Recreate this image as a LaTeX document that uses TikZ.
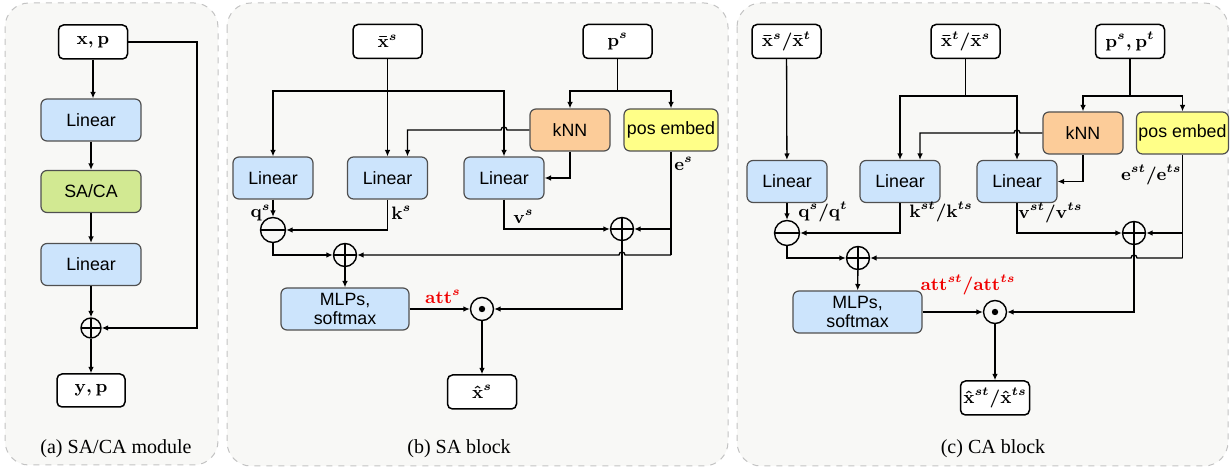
\documentclass[tikz,border=0pt]{standalone}
\usepackage[no-math]{fontspec}
\newfontfamily\boxfont{Liberation Sans}
\newfontfamily\capfont{Liberation Serif}
\usepackage{amsmath,amssymb}
\usepackage{tikz}
\usetikzlibrary{arrows.meta,calc}
\usepackage{xcolor}
\definecolor{linblue}{RGB}{204,228,252}
\definecolor{knnorange}{RGB}{252,204,153}
\definecolor{posyellow}{RGB}{255,255,136}
\definecolor{sacagreen}{RGB}{210,233,146}
\definecolor{panelgray}{RGB}{248,248,246}
\definecolor{edgegray}{RGB}{80,80,80}
\definecolor{dashgray}{RGB}{195,195,195}
\definecolor{attred}{RGB}{240,0,0}

\begin{document}
\begin{tikzpicture}[x=0.5pt,y=-0.5pt,
  wire/.style={line width=0.65pt,black},
  arr/.style={wire,-{Latex[length=3.2pt,width=2.8pt]}},
  inbox/.style={draw,line width=0.75pt,fill=white,rounded corners=2.5pt,minimum width=34.5pt,minimum height=17pt,inner sep=0pt,font=\fontsize{9}{10}\selectfont\boldmath},
  blk/.style={draw=edgegray,line width=0.6pt,rounded corners=3pt,minimum height=21pt,inner sep=0pt,align=center,font=\boxfont\fontsize{8.9}{9.7}\selectfont},
  linbox/.style={blk,fill=linblue,minimum width=40pt},
  opnode/.style={circle,draw,line width=0.7pt,minimum size=11.5pt,inner sep=0pt},
  plusop/.style={opnode,path picture={\draw[line width=0.65pt] (path picture bounding box.north) -- (path picture bounding box.south) (path picture bounding box.west) -- (path picture bounding box.east);}},
  minusop/.style={opnode,path picture={\draw[line width=0.65pt] (path picture bounding box.west) -- (path picture bounding box.east);}},
  dotop/.style={opnode,path picture={\fill (path picture bounding box.center) circle (1.6pt);}},
  lbl/.style={font=\fontsize{9}{10}\selectfont\boldmath,inner sep=0pt},
  panel/.style={draw=dashgray,dashed,fill=panelgray,rounded corners=12pt,line width=0.5pt},
  captext/.style={font=\capfont\fontsize{10}{12}\selectfont}]
  \useasboundingbox (0,0) rectangle (1230,469);

  \draw[panel] (5,3) rectangle (218,465);
  \draw[panel] (227,3) rectangle (728,466);
  \draw[panel] (737,3) rectangle (1228,466);

  \node[inbox] (xp) at (93,42) {$\mathbf{x},\mathbf{p}$};
  \node[blk,fill=linblue,minimum width=50pt] (la1) at (91,120) {Linear};
  \node[blk,fill=sacagreen,minimum width=50pt] (saca) at (91,191.5) {SA/CA};
  \node[blk,fill=linblue,minimum width=50pt] (la2) at (91,264.5) {Linear};
  \node[plusop,minimum size=10pt] (adda) at (91,328) {};
  \node[inbox,minimum width=34pt,minimum height=16.5pt] (yp) at (91,390.5) {$\mathbf{y},\mathbf{p}$};
  \coordinate (skipa) at (197,42);

  \draw[arr] (xp.south) -- (xp.south |- la1.north);
  \draw[arr] (la1) -- (saca);
  \draw[arr] (saca) -- (la2);
  \draw[arr] (la2) -- (adda);
  \draw[arr] (adda) -- (yp);
  \draw[arr] (xp.east) -- (skipa) |- (adda.east);

  \node[captext] (capa) at (116,449) {(a) SA/CA module};

  \node[inbox] (xs) at (387.5,41.5) {$\bar{\mathbf{x}}^s$};
  \node[inbox] (ps) at (617.5,41.5) {$\mathbf{p}^s$};
  \node[linbox] (lq) at (273,178) {Linear};
  \node[linbox] (lk) at (387.5,178) {Linear};
  \node[linbox] (lv) at (504,178) {Linear};
  \node[blk,fill=knnorange,minimum width=40pt] (knn) at (570,130) {kNN};
  \node[blk,fill=posyellow,minimum width=47pt] (pe) at (671,130) {pos embed};
  \node[minusop,minimum size=12.5pt] (sub) at (273,230) {};
  \node[plusop] (addv) at (622,229) {};
  \node[plusop] (addqk) at (345,255) {};
  \node[blk,fill=linblue,minimum width=64pt] (mlp) at (345,309) {MLPs,\\softmax};
  \node[dotop] (dot) at (482,309) {};
  \node[inbox] (xhat) at (482,392) {$\hat{\mathbf{x}}^s$};
  \coordinate (xsb) at (387.5,91);
  \coordinate (psb) at (617.5,91);
  \coordinate (hopk) at (lv.north |- knn.west);
  \coordinate (pebend) at (671,255);
  \coordinate (hopv) at (addv.south |- pebend);

  \draw[arr] (xs) -- (lk);
  \draw[arr] (xsb) -| (lq.north);
  \draw[arr] (xsb) -| (lv.north);
  \draw[wire] (ps) -- (psb);
  \draw[arr] (psb) -| (knn.north);
  \draw[arr] (psb) -| (pe.north);
  \draw[arr] (knn.west) -- ([xshift=1.5pt]hopk) arc[start angle=0,end angle=-180,radius=3] -| ([xshift=10pt]lk.north);
  \draw[arr] (knn.south) |- (lv.east);
  \draw[arr] (lq) -- (sub);
  \draw[arr] (lk.south) |- (sub.east);
  \draw[arr] (lv.south) |- (addv.west);
  \draw[wire] (pe.south) -- (pebend);
  \draw[arr] (pe.south |- addv.east) -- (addv.east);
  \draw[arr] (pebend) -- ([xshift=1.5pt]hopv) arc[start angle=0,end angle=-180,radius=3] -- (addqk.east);
  \draw[arr] (sub.south) |- (addqk.west);
  \draw[arr] (addqk) -- (mlp);
  \draw[arr] (mlp.east) -- (dot.west);
  \draw[arr] (addv.south) |- (dot.east);
  \draw[arr] (dot) -- (xhat);

  \node[lbl,anchor=east] (qs) at (271,213) {$\mathbf{q}^s$};
  \node[lbl,anchor=west] (ks) at (391,213) {$\mathbf{k}^s$};
  \node[lbl,anchor=west] (vs) at (513,217) {$\mathbf{v}^s$};
  \node[lbl,anchor=west] (es) at (674,164) {$\mathbf{e}^s$};
  \node[lbl,text=attred] (atts) at (443,297) {$\mathbf{att}^s$};
  \node[captext] (capb) at (459,449) {(b) SA block};

  \node[inbox] (xa) at (786.5,41.5) {$\bar{\mathbf{x}}^s/\bar{\mathbf{x}}^t$};
  \node[inbox] (xb) at (965.5,41.5) {$\bar{\mathbf{x}}^t/\bar{\mathbf{x}}^s$};
  \node[inbox] (pst) at (1130,41.5) {$\mathbf{p}^s,\mathbf{p}^t$};
  \node[linbox] (lq2) at (787,181.5) {Linear};
  \node[linbox] (lk2) at (900,181.5) {Linear};
  \node[linbox] (lv2) at (1017,181.5) {Linear};
  \node[blk,fill=knnorange,minimum width=40pt] (knn2) at (1083,133) {kNN};
  \node[blk,fill=posyellow,minimum width=46pt] (pe2) at (1182.5,133) {pos embed};
  \node[minusop,minimum size=12.5pt] (sub2) at (787,233) {};
  \node[plusop] (addv2) at (1134,233) {};
  \node[plusop] (addqk2) at (858,258) {};
  \node[blk,fill=linblue,minimum width=64.5pt] (mlp2) at (857.5,312) {MLPs,\\softmax};
  \node[dotop] (dot2) at (995,312) {};
  \node[inbox] (xhat2) at (995,398) {$\hat{\mathbf{x}}^{st}/\hat{\mathbf{x}}^{ts}$};
  \coordinate (xbb) at (965.5,96);
  \coordinate (pstb) at (1130,96);
  \coordinate (hopk2) at (lv2.north |- knn2.west);
  \coordinate (pebend2) at (1182.5,258);
  \coordinate (hopv2) at (addv2.south |- pebend2);

  \draw[arr] (xa) -- (lq2);
  \draw[wire] (xb) -- (xbb);
  \draw[arr] (xbb) -| (lk2.north);
  \draw[arr] (xbb) -| (lv2.north);
  \draw[wire] (pst) -- (pstb);
  \draw[arr] (pstb) -| (knn2.north);
  \draw[arr] (pstb) -| (pe2.north);
  \draw[arr] (knn2.west) -- ([xshift=1.5pt]hopk2) arc[start angle=0,end angle=-180,radius=3] -| ([xshift=10pt]lk2.north);
  \draw[arr] (knn2.south) |- (lv2.east);
  \draw[arr] (lq2) -- (sub2);
  \draw[arr] (lk2.south) |- (sub2.east);
  \draw[arr] (lv2.south) |- (addv2.west);
  \draw[wire] (pe2.south) -- (pebend2);
  \draw[arr] (pe2.south |- addv2.east) -- (addv2.east);
  \draw[arr] (pebend2) -- ([xshift=1.5pt]hopv2) arc[start angle=0,end angle=-180,radius=3] -- (addqk2.east);
  \draw[arr] (sub2.south) |- (addqk2.west);
  \draw[arr] (addqk2) -- (mlp2);
  \draw[arr] (mlp2.east) -- (dot2.west);
  \draw[arr] (addv2.south) |- (dot2.east);
  \draw[arr] (dot2) -- (xhat2);

  \node[lbl,anchor=west] (qst) at (798,212) {$\mathbf{q}^s/\mathbf{q}^t$};
  \node[lbl,anchor=west] (kst) at (909,212) {$\mathbf{k}^{st}/\mathbf{k}^{ts}$};
  \node[lbl,anchor=west] (vst) at (1018,213) {$\mathbf{v}^{st}/\mathbf{v}^{ts}$};
  \node[lbl,anchor=east] (est) at (1182,175) {$\mathbf{e}^{st}/\mathbf{e}^{ts}$};
  \node[lbl,text=attred] (attst) at (968,285) {$\mathbf{att}^{st}/\mathbf{att}^{ts}$};
  \node[captext] (capc) at (993,449) {(c) CA block};
\end{tikzpicture}
\end{document}
